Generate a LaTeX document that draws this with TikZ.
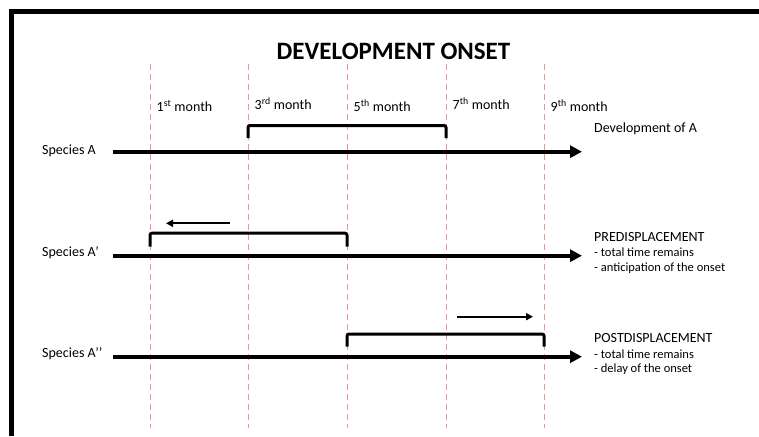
\documentclass[tikz,border=0pt]{standalone}
\usepackage{fontspec}
\setmainfont{Carlito}
\usetikzlibrary{arrows.meta,positioning}
\definecolor{monthred}{RGB}{236,150,150}
\tikzset{
	txt/.style={inner sep=0pt, anchor=west, font=\fontsize{14}{16}\selectfont},
	note/.style={inner sep=0pt, anchor=west, align=left, font=\fontsize{12.5}{14.5}\selectfont},
	timeline/.style={line width=4pt, -{Triangle[length=12pt,width=12pt]}},
	bracket/.style={line width=3pt, rounded corners=2pt},
	moveArrow/.style={line width=2pt, -{Triangle[length=7pt,width=7pt]}},
	monthline/.style={monthred, line width=1pt, dash pattern=on 6pt off 4pt}
}

\begin{document}
\begin{tikzpicture}[x=1pt,y=-1pt]
		\useasboundingbox (0,0) rectangle (759,436);
		\draw[line width=5pt] (11.5,436) -- (11.5,11.5) -- (759,11.5);
		\node[font=\fontsize{25}{30}\selectfont\bfseries] (title) at (393.5,51) {DEVELOPMENT ONSET};
		% months
		\foreach \x/\n/\s/\y in {150/1/st/106, 248/3/rd/103.3, 347/5/th/106, 446/7/th/103.3, 544/9/th/106}{
			\coordinate (top\n) at (\x,64);
			\coordinate (bot\n) at (\x,428);
			\draw[monthline] (top\n) -- (bot\n);
			\node[txt] (month\n) at (\x+6.5,\y) {\n\textsuperscript{\s} month};
		}
		% species A
		\node[txt] (spA) at (42,151) {Species A};
		\coordinate (spAs) at (113,151.7);
		\coordinate (spAe) at (582,151.7);
		\draw[timeline] (spAs) -- (spAe);
		\coordinate (brA) at (0,138);
		\draw[bracket] (top3 |- brA) -- ++(0,-12.5) -| (top7 |- brA);
		\node[txt] (devA) at (594,129) {Development of A};
		% species A'
		\node[txt] (spB) at (42,253) {Species A’};
		\coordinate (spBs) at (113,255.7);
		\coordinate (spBe) at (582,255.7);
		\draw[timeline] (spBs) -- (spBe);
		\coordinate (brB) at (0,246.7);
		\draw[bracket] (top1 |- brB) -- ++(0,-13.5) -| (top5 |- brB);
		\coordinate (preS) at (230,223.3);
		\coordinate (preE) at (166,223.3);
		\draw[moveArrow] (preS) -- (preE);
		\node[txt] (pre) at (594,236.7) {PREDISPLACEMENT};
		\node[note] (preNote) at (594,260.5) {- total time remains\\- anticipation of the onset};
		% species A''
		\node[txt] (spC) at (42,354) {Species A’’};
		\coordinate (spCs) at (113,356.7);
		\coordinate (spCe) at (582,356.7);
		\draw[timeline] (spCs) -- (spCe);
		\coordinate (brC) at (0,346.7);
		\draw[bracket] (top5 |- brC) -- ++(0,-12.7) -| (top9 |- brC);
		\coordinate (postS) at (456.7,316.7);
		\coordinate (postE) at (533,316.7);
		\draw[moveArrow] (postS) -- (postE);
		\node[txt] (post) at (594,338.3) {POSTDISPLACEMENT};
		\node[note] (postNote) at (594,362.2) {- total time remains\\- delay of the onset};
	\end{tikzpicture}
\end{document}
